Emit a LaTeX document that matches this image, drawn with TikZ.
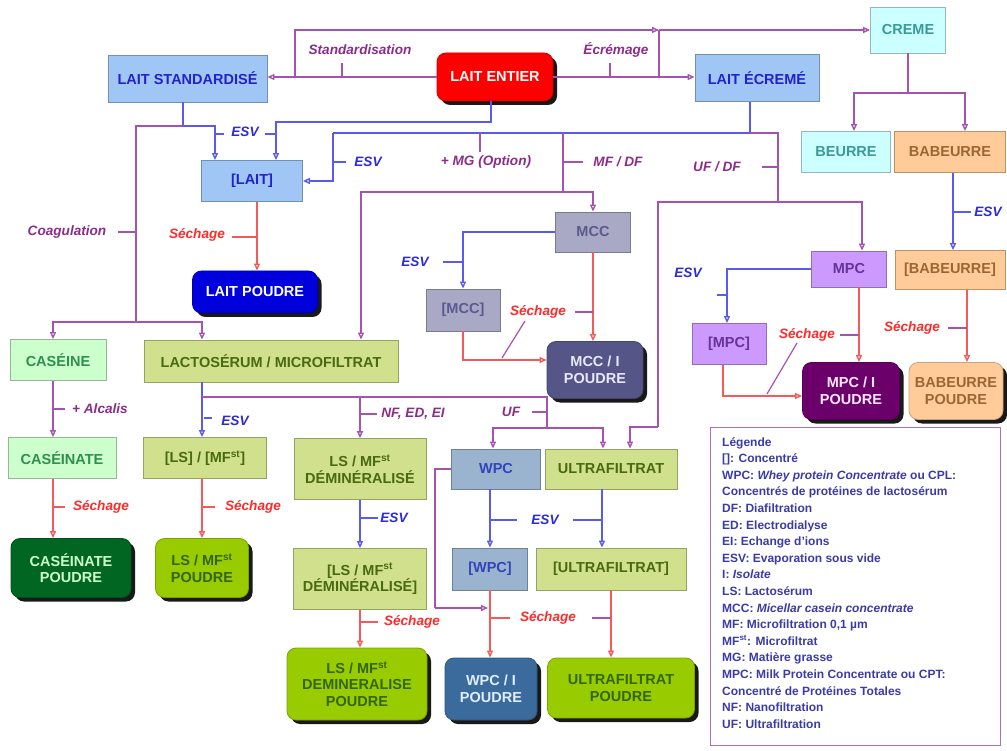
\documentclass[tikz,border=0pt]{standalone}
\usepackage{fontspec}
\setmainfont{Liberation Sans}
\usetikzlibrary{arrows.meta,shadows}

% fills and texts of the boxes
\definecolor{cLB}{HTML}{A0C6F6}\definecolor{cLBt}{HTML}{2222CC}
\definecolor{cRed}{HTML}{FF0000}
\definecolor{cCy}{HTML}{CCFFFF}\definecolor{cCyt}{HTML}{3A9A9A}
\definecolor{cPe}{HTML}{FFCC99}\definecolor{cPet}{HTML}{9A6633}
\definecolor{cBl}{HTML}{0000DD}
\definecolor{cGr}{HTML}{A9A9C5}\definecolor{cGrt}{HTML}{5A5A90}
\definecolor{cSl}{HTML}{555588}\definecolor{cSlt}{HTML}{E8E8FF}
\definecolor{cVi}{HTML}{CC99FF}\definecolor{cVit}{HTML}{663399}
\definecolor{cDp}{HTML}{6B006B}\definecolor{cDpt}{HTML}{FFE8FF}
\definecolor{cMi}{HTML}{CCFFCC}\definecolor{cMit}{HTML}{2F8F4F}
\definecolor{cDg}{HTML}{006622}\definecolor{cDgt}{HTML}{CCFFCC}
\definecolor{cKh}{HTML}{D0E08C}\definecolor{cKht}{HTML}{4A6A10}
\definecolor{cLm}{HTML}{99CC00}\definecolor{cLmt}{HTML}{336600}
\definecolor{cSt}{HTML}{9AB4CF}\definecolor{cStt}{HTML}{3344BB}
\definecolor{cSd}{HTML}{3A6B9C}\definecolor{cSdt}{HTML}{E0EEFF}
% connectors and process labels
\definecolor{lnP}{HTML}{A552B0}\definecolor{lnB}{HTML}{5A5AF0}\definecolor{lnR}{HTML}{F55A5A}
\definecolor{txP}{HTML}{8B2C8B}\definecolor{txB}{HTML}{2B2BD8}\definecolor{txR}{HTML}{FF2B2B}
\definecolor{legC}{HTML}{3B3BA8}\definecolor{legB}{HTML}{B070B0}

\begin{document}
\begin{tikzpicture}[x=1pt,y=-1pt,
  >={Triangle[open,length=7pt,width=6pt]},
  sz/.style 2 args={minimum width=#1pt,minimum height=#2pt},
  box/.style={draw,line width=0.8pt,inner sep=2pt,align=center,
    font=\bfseries\fontsize{14.5}{16.5}\selectfont},
  flat/.style 2 args={box,fill=#1,draw=#1!72!black,text=#2},
  powder/.style 2 args={box,fill=#1,draw=#1!80!black,text=#2,rounded corners=9pt,
    drop shadow={shadow xshift=4pt,shadow yshift=-4pt,fill=black,opacity=0.9}},
  pl/.style={draw=lnP,line width=1.4pt},
  bl/.style={draw=lnB,line width=1.4pt},
  rl/.style={draw=lnR,line width=1.4pt},
  lab/.style={font=\bfseries\itshape\fontsize{13.6}{15}\selectfont,inner sep=1pt},
  lp/.style={lab,text=txP}, lbv/.style={lab,text=txB}, lr/.style={lab,text=txR},
  tp/.style={draw=lnP,line width=1.2pt},
  tb/.style={draw=lnB,line width=1.2pt},
  tr/.style={draw=lnR,line width=1.2pt}]
\useasboundingbox (0,0) rectangle (1007,751);

% ---------- boxes ----------
\node[flat={cLB}{cLBt},sz={159}{47}] (std) at (187.5,78.5) {LAIT STANDARDISÉ};
\node[powder={cRed}{white},sz={116}{48}] (entier) at (495,77) {LAIT ENTIER};
\node[flat={cLB}{cLBt},sz={124}{47}] (ecreme) at (757,78) {LAIT ÉCREMÉ};
\node[flat={cCy}{cCyt},sz={75}{46}] (creme) at (908,30) {CREME};
\node[flat={cCy}{cCyt},sz={89}{41}] (beurre) at (846,152) {BEURRE};
\node[flat={cPe}{cPet},sz={111}{41}] (babeurre) at (950,152) {BABEURRE};
\node[flat={cLB}{cLBt},sz={101}{41}] (lait) at (252,181) {[LAIT]};
\node[powder={cBl}{white},sz={125}{42}] (laitp) at (255,292) {LAIT POUDRE};
\node[flat={cGr}{cGrt},sz={75}{40}] (mcc) at (593,232) {MCC};
\node[flat={cGr}{cGrt},sz={74}{42}] (mccc) at (463,310) {[MCC]};
\node[powder={cSl}{cSlt},sz={96}{57}] (mccp) at (595,370) {MCC / I\\POUDRE};
\node[flat={cVi}{cVit},sz={75}{36}] (mpc) at (849,269) {MPC};
\node[flat={cPe}{cPet},sz={110}{39}] (babc) at (950,270) {[BABEURRE]};
\node[flat={cVi}{cVit},sz={74}{41}] (mpcc) at (729,344) {[MPC]};
\node[powder={cDp}{cDpt},sz={97}{57}] (mpcp) at (851,391) {MPC / I\\POUDRE};
\node[powder={cPe}{cPet},sz={94}{57}] (babp) at (956,391) {BABEURRE\\POUDRE};
\node[flat={cMi}{cMit},sz={96}{41}] (caseine) at (58,360) {CASÉINE};
\node[flat={cKh}{cKht},sz={254}{42}] (lacto) at (271,361) {LACTOSÉRUM / MICROFILTRAT};
\node[flat={cMi}{cMit},sz={108}{41}] (casnt) at (62,458) {CASÉINATE};
\node[flat={cKh}{cKht},sz={123}{41}] (lsc) at (205,458) {[LS] / [MF\textsuperscript{st}]};
\node[powder={cDg}{cDgt},sz={120}{59}] (casp) at (71,568) {CASÉINATE\\POUDRE};
\node[powder={cLm}{cLmt},sz={93}{59}] (lsp) at (202,568) {LS / MF\textsuperscript{st}\\POUDRE};
\node[flat={cKh}{cKht},sz={132}{61}] (lsdem) at (360,469) {LS / MF\textsuperscript{st}\\DÉMINÉRALISÉ};
\node[flat={cKh}{cKht},sz={133}{61}] (lsdemc) at (360,579) {[LS / MF\textsuperscript{st}\\DÉMINÉRALISÉ]};
\node[powder={cLm}{cLmt},sz={140}{72}] (lsdemp) at (357,684) {LS / MF\textsuperscript{st}\\DEMINERALISE\\POUDRE};
\node[flat={cSt}{cStt},sz={89}{40}] (wpc) at (496,469) {WPC};
\node[flat={cKh}{cKht},sz={132}{40}] (uf) at (611,469) {ULTRAFILTRAT};
\node[flat={cSt}{cStt},sz={75}{42}] (wpcc) at (490,569) {[WPC]};
\node[flat={cKh}{cKht},sz={150}{42}] (ufc) at (611,569) {[ULTRAFILTRAT]};
\node[powder={cSd}{cSdt},sz={92}{62}] (wpcp) at (491,689) {WPC / I\\POUDRE};
\node[powder={cLm}{cLmt},sz={147}{60}] (ufp) at (621,688) {ULTRAFILTRAT\\POUDRE};

% ---------- legend ----------
\node[draw=legB,line width=1.2pt,fill=white,anchor=north west,sz={290}{318}] (leg) at (710,427) {};
\node[anchor=north west,align=left,inner sep=0pt,text=legC,
  font=\bfseries\fontsize{12}{16.6}\selectfont] (legt) at (722,437) {%
Légende\\
{[]}: Concentré\\
WPC: \textit{Whey protein Concentrate} ou CPL:\\
Concentrés de protéines de lactosérum\\
DF: Diafiltration\\
ED: Electrodialyse\\
EI: Echange d'ions\\
ESV: Evaporation sous vide\\
I: \textit{Isolate}\\
LS: Lactosérum\\
MCC: \textit{Micellar casein concentrate}\\
MF: Microfiltration 0,1 µm\\
MF\textsuperscript{st}: Microfiltrat\\
MG: Matière grasse\\
MPC: Milk Protein Concentrate ou CPT:\\
Concentré de Protéines Totales\\
NF: Nanofiltration\\
UF: Ultrafiltration};

% ---------- junction points ----------
\coordinate (jS) at (295,77);
\coordinate (jE) at (659,77);
\coordinate (jT) at (659,30);
\coordinate (jC) at (908,93);
\coordinate (jL1) at (215,126);
\coordinate (jL2) at (276,122);
\coordinate (jSt) at (183,126);
\coordinate (jCo) at (136,126);
\coordinate (jCb) at (136,322);
\coordinate (jEc) at (750,133);
\coordinate (jV) at (333,133);
\coordinate (jM) at (563,133);
\coordinate (jMb) at (563,192);
\coordinate (jU) at (778,133);
\coordinate (jUb) at (778,202);
\coordinate (jUl) at (658,427);
\coordinate (jLs) at (202,397);
\coordinate (jLr) at (547,397);
\coordinate (jLb) at (547,428);
\coordinate (jW) at (435,608);
\coordinate (jWe) at (488,608);

% ---------- skimming and standardisation ----------
\draw[pl,->] (entier.west) -- (entier.west -| std.east);
\draw[pl,->] (entier.east) -- (entier.east -| ecreme.west);
\draw[pl,->] (jS) |- (jT);
\draw[pl] (jE) -- (jT);
\draw[pl,->] (jT) -- (creme.west);
\node[lp] (lStd) at (360,50) {Standardisation};
\draw[tp] (342,63) -- (342,77);
\node[lp] (lEcr) at (616,50) {Écrémage};
\draw[tp] (610,63) -- (610,77);

% ---------- cream ----------
\draw[pl] (creme.south) -- (jC);
\draw[pl,->] (jC) -| (beurre.north -| 854,0);
\draw[pl,->] (jC) -| (babeurre.north -| 965,0);

% ---------- concentrated milk ----------
\draw[bl] (std.south -| jSt) -- (jSt);
\draw[bl,->] (jSt) -- (jL1) -- (lait.north -| jL1);
\draw[bl,->] (entier.south -| 491,0) |- (jL2) -- (lait.north -| jL2);
\node[lbv] (lEsv1) at (245,132) {ESV};
\draw[tb] (215,134) -- (224,134);
\draw[tb] (265,134) -- (276,134);
\draw[bl] (ecreme.south -| jEc) -- (jEc) -- (jV);
\draw[bl,->] (jV) |- (lait.east);
\node[lbv] (lEsv2) at (368,162) {ESV};
\draw[tb] (333,162) -- (346,162);
\node[lp] (lMg) at (486,162) {+ MG (Option)};
\draw[tp] (480,133) -- (480,152);
\draw[rl,->] (lait.south -| 257,0) -- (laitp.north -| 257,0);
\node[lr] (lSec1) at (197,235) {Séchage};
\draw[tr] (232,237) -- (257,237);

% ---------- coagulation ----------
\draw[pl] (jSt) -- (jCo) -- (jCb);
\draw[pl,->] (jCb) -| (caseine.north -| 53,0);
\draw[pl,->] (jCb) -| (lacto.north -| 202,0);
\node[lp] (lCoag) at (67,232) {Coagulation};
\draw[tp] (118,232) -- (136,232);

% ---------- microfiltration: MCC ----------
\draw[pl] (jM) -- (jMb);
\draw[pl,->] (jMb) -| (mcc.north);
\draw[pl,->] (jMb) -| (lacto.north -| 361,0);
\node[lp] (lMf) at (618,162) {MF / DF};
\draw[tp] (563,162) -- (583,162);
\draw[bl,->] (mcc.west) -| (mccc.north);
\node[lbv] (lEsv3) at (415,262) {ESV};
\draw[tb] (443,262) -- (463,262);
\draw[rl,->] (mcc.south) -- (mccp.north -| mcc.south);
\node[lr] (lSec2) at (538,312) {Séchage};
\draw[tp] (575,312) -- (593,312);
\draw[rl,->] (mccc.south) |- ([yshift=10pt]mccp.west);
\draw[tp] (502,358) -- (525,321);

% ---------- ultrafiltration: MPC ----------
\draw[pl] (jEc) -- (jU) -- (jUb);
\draw[pl,->] (jUb) -| (mpc.north -| 862,0);
\draw[pl] (jUb) -| (jUl);
\draw[pl,->] (jUl) -| (uf.north -| 630,0);
\node[lp] (lUfdf) at (717,167) {UF / DF};
\draw[tp] (762,167) -- (778,167);
\draw[bl,->] (mpc.west) -| (mpcc.north -| 727,0);
\node[lbv] (lEsv4) at (688,273) {ESV};
\draw[tb] (717,295) -- (727,295);
\draw[rl,->] (mpc.south -| 859,0) -- (mpcp.north -| 859,0);
\node[lr] (lSec3) at (807,335) {Séchage};
\draw[tp] (840,335) -- (859,335);
\draw[rl,->] (mpcc.south -| 723,0) |- ([yshift=-5pt]mpcp.west);
\draw[tp] (767,394) -- (797,343);

% ---------- buttermilk ----------
\draw[bl,->] (babeurre.south -| 953,0) -- (babc.north -| 953,0);
\node[lbv] (lEsv5) at (988,212) {ESV};
\draw[tb] (953,212) -- (971,212);
\draw[rl,->] (babc.south -| 967,0) -- (babp.north -| 967,0);
\node[lr] (lSec4) at (912,328) {Séchage};
\draw[tp] (948,328) -- (967,328);

% ---------- casein ----------
\draw[pl,->] (caseine.south -| 53,0) -- (casnt.north -| 53,0);
\node[lp] (lAlc) at (100,409) {+ Alcalis};
\draw[tp] (53,409) -- (65,409);
\draw[rl,->] (casnt.south -| 53,0) -- (casp.north -| 53,0);
\node[lr] (lSec5) at (101,507) {Séchage};
\draw[tr] (53,507) -- (65,507);

% ---------- whey / microfiltrate ----------
\draw[bl,->] (lacto.south -| jLs) -- (lsc.north -| jLs);
\node[lbv] (lEsv6) at (235,421) {ESV};
\draw[tb] (204,418) -- (212,418);
\draw[rl,->] (lsc.south -| 202,0) -- (lsp.north -| 202,0);
\node[lr] (lSec6) at (253,507) {Séchage};
\draw[tr] (202,507) -- (215,507);
\draw[pl] (jLs) -- (jLr) -- (jLb);
\draw[pl,->] (lsdem.north |- jLs) -- (lsdem.north);
\node[lp] (lNf) at (413,414) {NF, ED, EI};
\draw[tp] (360,414) -- (377,414);
\draw[pl,->] (jLb) -| (wpc.north -| 493,0);
\draw[pl,->] (jLb) -| (uf.north -| 603,0);
\node[lp] (lUf) at (511,412) {UF};
\draw[tp] (532,412) -- (547,412);

% ---------- demineralised whey ----------
\draw[bl,->] (lsdem.south) -- (lsdemc.north);
\node[lbv] (lEsv7) at (394,518) {ESV};
\draw[tb] (360,518) -- (378,518);
\draw[rl,->] (lsdemc.south -| 360,0) -- (lsdemp.north -| 360,0);
\node[lr] (lSec7) at (412,622) {Séchage};
\draw[tr] (360,622) -- (378,622);

% ---------- WPC and ultrafiltrate ----------
\draw[bl,->] (wpc.south -| wpcc.north) -- (wpcc.north);
\draw[bl,->] (uf.south -| 602,0) -- (ufc.north -| 602,0);
\node[lbv] (lEsv8) at (545,520) {ESV};
\draw[tb] (490,520) -- (517,520);
\draw[tb] (573,520) -- (602,520);
\draw[pl] (wpc.west) -| (jW);
\draw[pl,->] (jW) -- (jWe);
\draw[rl,->] (wpcc.south) -- (wpcp.north -| wpcc.south);
\draw[rl,->] (ufc.south) -- (ufp.north -| ufc.south);
\node[lr] (lSec8) at (548,618) {Séchage};
\draw[tr] (490,618) -- (510,618);
\draw[tp] (592,618) -- (611,618);
\end{tikzpicture}
\end{document}
